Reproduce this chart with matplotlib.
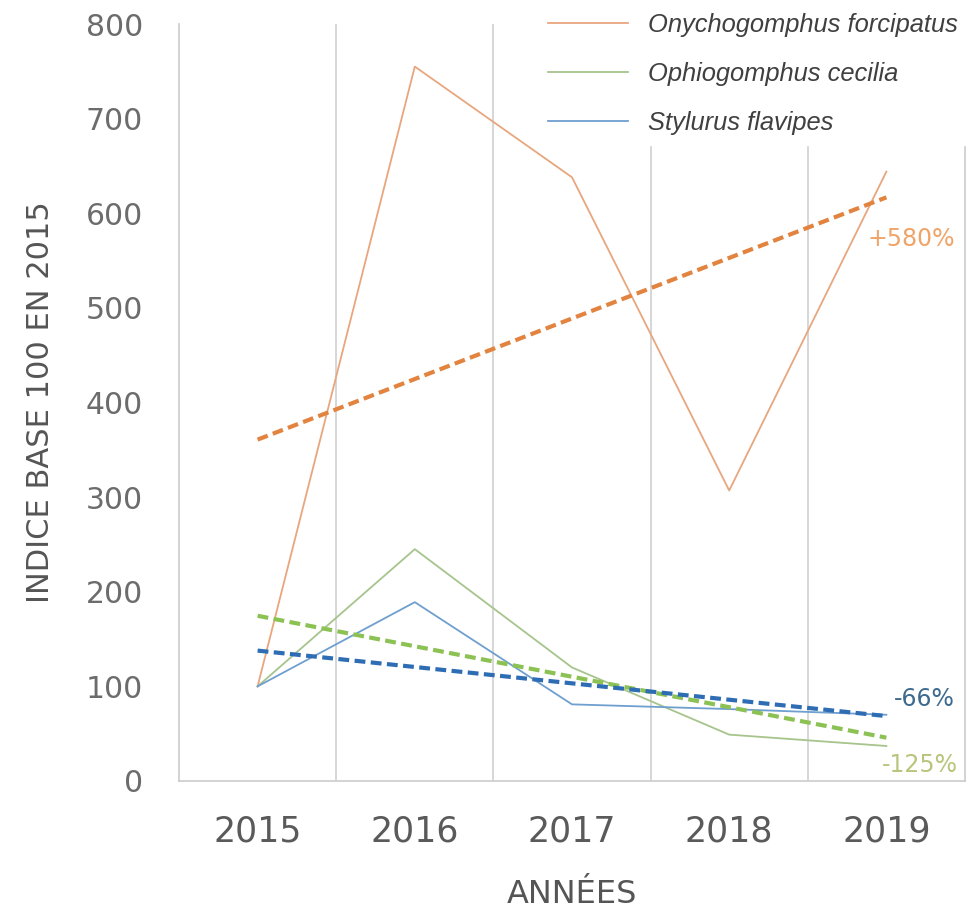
import numpy as np
import matplotlib
matplotlib.use("Agg")
import matplotlib.pyplot as plt

# data (index, base 100 in 2015)
years = ["2015", "2016", "2017", "2018", "2019"]
onychogomphus = [100, 755, 638, 307, 644]
ophiogomphus = [100, 245, 120, 49, 37]
stylurus = [100, 189, 81, 76, 70]
species = ["Onychogomphus forcipatus", "Ophiogomphus cecilia", "Stylurus flavipes"]
trend_labels = ["+580%", "-125%", "-66%"]

line_colors = ["#e8a67e", "#a6c48c", "#6f9fcf"]
trend_colors = ["#e2843f", "#8cc153", "#2e6db4"]
label_colors = ["#f0a468", "#b9c47c", "#3d6a8e"]
label_offsets = [(18, -30), (24, -20), (27, 12)]

fig = plt.figure(figsize=(9.8, 9.08), dpi=100)
ax = fig.add_axes([179/980, 1-781/908, (965-179)/980, (781-24)/908])

x = np.arange(len(years))
series = [onychogomphus, ophiogomphus, stylurus]

handles = []
for vals, name, c in zip(series, species, line_colors):
    h, = ax.plot(x, vals, color=c, lw=1.3, label=name, zorder=3)
    handles.append(h)

# linear trend lines
for vals, c, lc, txt, off in zip(series, trend_colors, label_colors, trend_labels, label_offsets):
    p = np.polyfit(x, vals, 1)
    ty = np.polyval(p, x)
    ax.plot(x, ty, color=c, lw=3, ls=(0, (2.6, 1.3)), zorder=4)
    ax.annotate(txt, xy=(x[-1], ty[-1]), xytext=off, textcoords="offset points",
                ha="center", va="center", color=lc, fontsize=17)

ax.set_xlim(-0.5, 4.5)
ax.set_ylim(0, 800)
ax.set_yticks(np.arange(0, 801, 100))
ax.set_xticks(x)
ax.set_xticklabels(years)

for xb in np.arange(0.5, 4.5, 1):
    ax.axvline(xb, color="#cfcfcf", lw=1.2, zorder=1)

for s in ["left", "bottom", "right"]:
    ax.spines[s].set_color("#cccccc")
    ax.spines[s].set_linewidth(1.2)
ax.spines["top"].set_visible(False)

ax.tick_params(axis="y", length=0, pad=26, labelsize=21.5, labelcolor="#6c6c6c")
ax.tick_params(axis="x", length=0, pad=24, labelsize=25, labelcolor="#5a5a5a")

ax.set_ylabel("INDICE BASE 100 EN 2015", fontsize=22, color="#555555", labelpad=22)
ax.set_xlabel("ANNÉES", fontsize=23, color="#555555", labelpad=22)

leg = ax.legend(handles=handles, loc="upper right", bbox_to_anchor=(0.988, 0.997),
                bbox_transform=fig.transFigure, frameon=True, fancybox=False,
                facecolor="white", edgecolor="white", framealpha=1,
                prop={"style": "italic", "size": 18.4, "family": "Liberation Sans"},
                handlelength=3.1, handletextpad=0.8, labelspacing=0.98,
                borderaxespad=0.0)
for t in leg.get_texts():
    t.set_color("#404040")
leg.set_zorder(10)

fig.savefig("out.png", dpi=100, facecolor="white")
